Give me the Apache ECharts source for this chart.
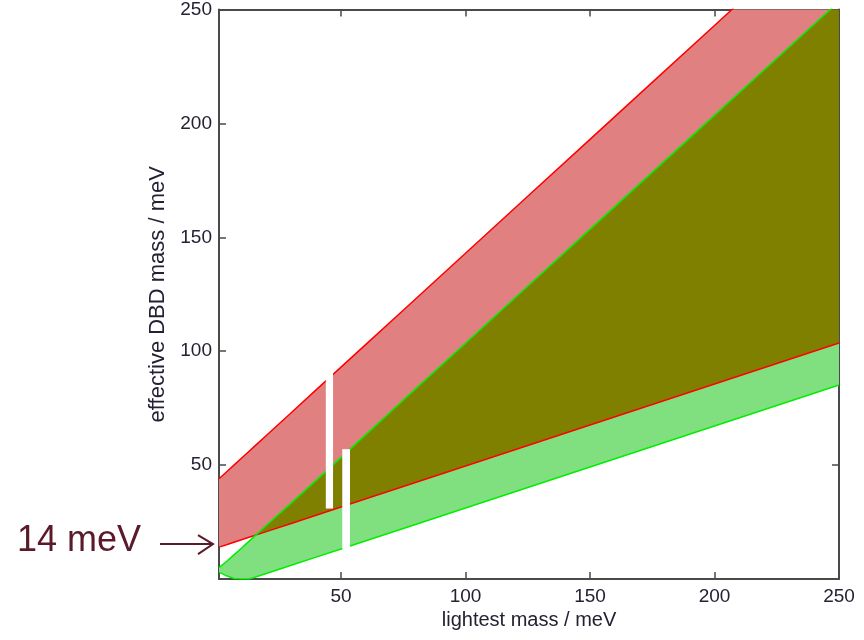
<!DOCTYPE html>
<html>
<head>
<meta charset="utf-8">
<script src="https://cdn.jsdelivr.net/npm/echarts@6/dist/echarts.min.js"></script>
<style>html,body{margin:0;padding:0;background:#fff;}#c{width:864px;height:640px;}</style>
</head>
<body>
<div id="c"></div>
<script>
// lightest mass samples (meV)
const xs        = [1,   4,   7,   10,  13,  15,  16,  20,  30,  40,  50,  60,  75,  100,  125,  150,  175,  200,  225,  250];
// inverted-hierarchy band (red): upper and lower bound
const redUpper  = [44,  47,  50,  53,  56,  58,  59,  63,  73,  83,  93,  103, 118, 143,  168,  193,  218,  243,  268,  293];
const redLower  = [14,  15.0,16.1,17.2,18.3,19.0,19.4,20.8,24.4,28.0,31.6,35.2,40.6,49.6, 58.6, 67.6, 76.6, 85.6, 94.6, 103.6];
// normal-hierarchy band (green): upper and lower bound
const greenUpper= [5,   7.7, 10.6,13.5,16.5,18.5,19.5,23.5,33.3,43.3,53.3,63.4,78.5,103.5,128.5,153.5,178.5,203.5,228.5,253.5];
const greenLower= [3.0, 1.4, 0.2, 0,   0,   0.6, 1.0, 2.4, 6.0, 9.6, 13.2,16.8,22.2,31.2, 40.2, 49.2, 58.2, 67.2, 76.2, 85.2];
// white gaps in the drawn bands: [x from, x to, y from, y to]
const gaps = [[43.9, 46.8, 31.0, 91], [50.5, 53.6, 13.2, 57]];
// tick labels
const xTicks = [50, 100, 150, 200, 250];
const yTicks = [50, 100, 150, 200, 250];

const pair = (arr) => xs.map((x, i) => [x, arr[i]]);
// band boundaries (green only, overlap, red only)
const greenTop = xs.map((x, i) => Math.min(redLower[i], greenUpper[i]));
const oliveTop = xs.map((x, i) => Math.max(redLower[i], greenUpper[i]));

const FONT = 'Liberation Sans, Arial, sans-serif';
const NARROW = '"Liberation Sans Narrow", "Arial Narrow", "Liberation Sans", sans-serif';
const AX = '#4a4a4a';
const TXT = '#222233';

function bandSeries(lo, hi, color) {
  return {
    type: 'custom', z: 2, silent: true, clip: true,
    data: xs.map((x, i) => [x, lo[i], hi[i]]),
    renderItem: function (params, api) {
      if (params.dataIndex !== 0) return null;
      const pts = [];
      for (let i = 0; i < xs.length; i++) pts.push(api.coord([xs[i], hi[i]]));
      for (let i = xs.length - 1; i >= 0; i--) pts.push(api.coord([xs[i], lo[i]]));
      return {type: 'polygon', shape: {points: pts}, style: {fill: color}};
    }
  };
}

const chart = echarts.init(document.getElementById('c'), null, {renderer: 'canvas'});

const axisCommon = {
  z: 0,
  axisLine: {show: true, onZero: false, lineStyle: {color: AX, width: 2}},
  splitLine: {show: false}
};

chart.setOption({
  animation: false,
  backgroundColor: '#ffffff',
  grid: {left: 219, right: 25, top: 9, bottom: 61, containLabel: false},
  xAxis: [
    Object.assign({}, axisCommon, {
      type: 'value', min: 1, max: 250, position: 'bottom',
      name: 'lightest mass / meV', nameLocation: 'middle', nameGap: 31,
      nameTextStyle: {fontFamily: FONT, fontSize: 20, color: TXT},
      axisTick: {show: true, inside: true, length: 7, customValues: xTicks, lineStyle: {color: AX, width: 1.5}},
      axisLabel: {customValues: xTicks, fontFamily: NARROW, fontSize: 19, color: TXT, margin: 8}
    }),
    Object.assign({}, axisCommon, {
      type: 'value', min: 1, max: 250, position: 'top',
      axisTick: {show: true, inside: true, length: 7, customValues: xTicks, lineStyle: {color: AX, width: 1.5}},
      axisLabel: {show: false}
    })
  ],
  yAxis: [
    Object.assign({}, axisCommon, {
      type: 'value', min: 0, max: 250, position: 'left',
      name: 'effective DBD mass / meV', nameLocation: 'middle', nameGap: 48,
      nameTextStyle: {fontFamily: FONT, fontSize: 22, color: TXT},
      axisTick: {show: true, inside: true, length: 7, customValues: yTicks, lineStyle: {color: AX, width: 1.5}},
      axisLabel: {customValues: yTicks, fontFamily: NARROW, fontSize: 19, color: TXT, margin: 7}
    }),
    Object.assign({}, axisCommon, {
      type: 'value', min: 0, max: 250, position: 'right',
      axisTick: {show: true, inside: true, length: 7, customValues: yTicks, lineStyle: {color: AX, width: 1.5}},
      axisLabel: {show: false}
    })
  ],
  series: [
    bandSeries(greenLower, greenTop, '#80e080'),
    bandSeries(redLower, oliveTop, '#808000'),
    bandSeries(oliveTop, redUpper, '#e08080'),
    {type: 'line', data: pair(redUpper), showSymbol: false, symbol: 'none', lineStyle: {color: '#ff0000', width: 1.5}, z: 3},
    {type: 'line', data: pair(redLower), showSymbol: false, symbol: 'none', lineStyle: {color: '#ff0000', width: 1.5}, z: 3},
    {type: 'line', data: pair(greenUpper), showSymbol: false, symbol: 'none', lineStyle: {color: '#00ee00', width: 1.5}, z: 3},
    {type: 'line', data: pair(greenLower), showSymbol: false, symbol: 'none', lineStyle: {color: '#00ee00', width: 1.5}, z: 3},
    {
      type: 'custom', z: 4, silent: true, data: gaps,
      renderItem: function (params, api) {
        const p0 = api.coord([api.value(0), api.value(3)]);
        const p1 = api.coord([api.value(1), api.value(2)]);
        return {type: 'rect', shape: {x: p0[0], y: p0[1], width: p1[0] - p0[0], height: p1[1] - p0[1]}, style: {fill: '#ffffff'}};
      }
    }
  ]
});

// annotation: "14 meV" pointing at the lower red bound at the left edge
const tip = chart.convertToPixel({xAxisIndex: 0, yAxisIndex: 0}, [xs[0], redLower[0]]);
const tx = tip[0] - 6, ty = tip[1] - 3;
chart.setOption({
  graphic: [
    {type: 'text', left: 17, top: ty - 21, style: {text: '14 meV', font: '36px ' + FONT, fill: '#5a1a2a'}},
    {type: 'line', shape: {x1: tx - 53, y1: ty, x2: tx, y2: ty}, style: {stroke: '#5a1a2a', lineWidth: 2}},
    {type: 'polyline', shape: {points: [[tx - 15, ty - 9], [tx, ty], [tx - 15, ty + 10]]}, style: {stroke: '#5a1a2a', lineWidth: 2, fill: null}}
  ]
});
</script>
</body>
</html>
